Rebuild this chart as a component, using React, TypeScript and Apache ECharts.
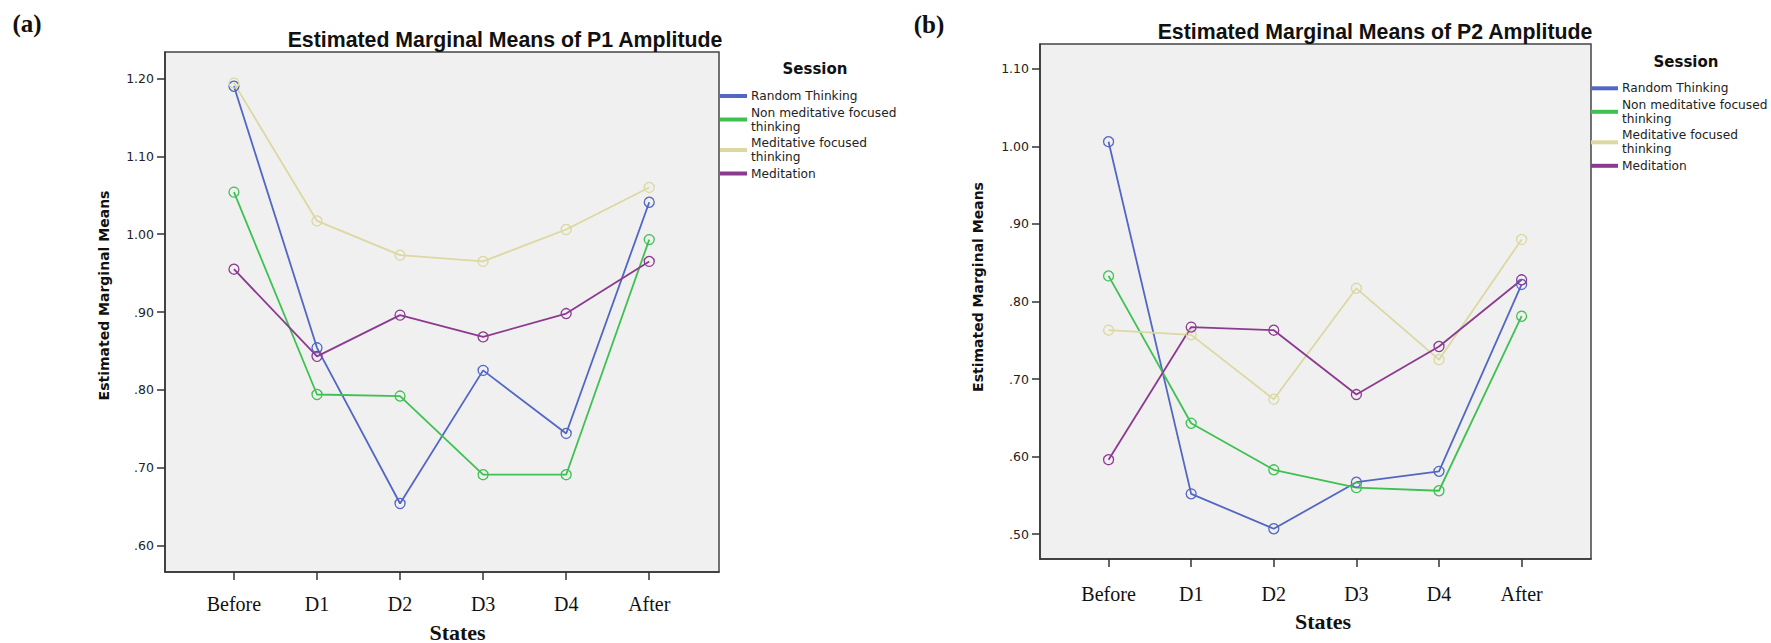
import React, { useEffect, useRef } from "react";
import * as echarts from "echarts";

const states = ["Before", "D1", "D2", "D3", "D4", "After"];
const sessions = [
  "Random Thinking",
  "Non meditative focused thinking",
  "Meditative focused thinking",
  "Meditation",
];
const sessionColors = ["#5266c4", "#3fc152", "#dcd8a2", "#8c3a90"];

const p1Random = [1.19, 0.854, 0.654, 0.825, 0.744, 1.041];
const p1NonMed = [1.054, 0.794, 0.792, 0.691, 0.691, 0.993];
const p1MedFocused = [1.194, 1.017, 0.973, 0.965, 1.006, 1.06];
const p1Meditation = [0.955, 0.843, 0.896, 0.868, 0.898, 0.965];

const p2Random = [1.006, 0.552, 0.507, 0.567, 0.581, 0.822];
const p2NonMed = [0.833, 0.643, 0.583, 0.56, 0.556, 0.781];
const p2MedFocused = [0.763, 0.757, 0.674, 0.817, 0.725, 0.88];
const p2Meditation = [0.596, 0.767, 0.763, 0.68, 0.742, 0.828];

const p1Ticks = [0.6, 0.7, 0.8, 0.9, 1.0, 1.1, 1.2];
const p2Ticks = [0.5, 0.6, 0.7, 0.8, 0.9, 1.0, 1.1];

const fmtY = (v: number) => {
  const s = v.toFixed(2);
  return s.startsWith("0") ? s.slice(1) : s;
};

export default function App() {
  const ref = useRef<HTMLDivElement>(null);
  useEffect(() => {
    if (!ref.current) return;
    const chart = echarts.init(ref.current, null, { renderer: "svg" });
    const stateIdx = states.map((_, i) => i);
    const axisCol = "#333";

    const xAxisBase = (gridIndex: number, margin: number) => ({
      type: "value",
      gridIndex,
      min: -0.83,
      max: 5.84,
      splitLine: { show: false },
      axisLine: { show: true, onZero: false, lineStyle: { color: axisCol, width: 1.5 } },
      axisTick: {
        show: true,
        length: 8,
        customValues: stateIdx,
        lineStyle: { color: axisCol, width: 1.5 },
      },
      axisLabel: {
        customValues: stateIdx,
        formatter: (v: number) => states[Math.round(v)],
        margin,
        color: "#111",
        fontFamily: "Liberation Serif",
        fontSize: 20,
      },
    });
    const yAxisBase = (gridIndex: number, min: number, max: number, ticks: number[]) => ({
      type: "value",
      gridIndex,
      min,
      max,
      splitLine: { show: false },
      axisLine: { show: true, onZero: false, lineStyle: { color: axisCol, width: 1.5 } },
      axisTick: {
        show: true,
        length: 8,
        customValues: ticks,
        lineStyle: { color: axisCol, width: 1.5 },
      },
      axisLabel: {
        customValues: ticks,
        formatter: fmtY,
        margin: 11,
        color: "#222",
        fontFamily: "DejaVu Sans",
        fontSize: 12.5,
      },
    });

    const mk = (name: string, idx: number, values: number[], ci: number) => ({
      type: "line",
      name,
      xAxisIndex: idx,
      yAxisIndex: idx,
      data: values.map((v, i) => [i, v]),
      symbol: "circle",
      symbolSize: 10,
      lineStyle: { color: sessionColors[ci], width: 1.8 },
      itemStyle: { color: "rgba(0,0,0,0)", borderColor: sessionColors[ci], borderWidth: 1.3 },
      emphasis: { disabled: true },
    });

    const legendBase = (left: number, top: number) => ({
      orient: "vertical",
      left,
      top,
      padding: 0,
      itemWidth: 25,
      itemHeight: 2,
      itemGap: 2.5,
      icon: "rect",
      selectedMode: false,
      data: sessions.map((n, i) => ({ name: n, itemStyle: { color: sessionColors[i] } })),
      formatter: (n: string) => n.replace("focused thinking", "focused\nthinking"),
      textStyle: { fontFamily: "DejaVu Sans", fontSize: 12.2, lineHeight: 14, color: "#222" },
    });

    const txt = (text: string, x: number, y: number, font: string, extra: any = {}) => ({
      type: "text",
      x,
      y,
      ...extra,
      style: { text, font, fill: "#111", align: "center", verticalAlign: "middle" },
    });

    chart.setOption({
      animation: false,
      backgroundColor: "#fff",
      grid: [
        { left: 165, top: 52, width: 554, height: 520, show: true, backgroundColor: "#f0f0f0", borderColor: "#444", borderWidth: 1.5 },
        { left: 1040, top: 44, width: 551, height: 515, show: true, backgroundColor: "#f0f0f0", borderColor: "#444", borderWidth: 1.5 },
      ],
      xAxis: [xAxisBase(0, 22), xAxisBase(1, 25)],
      yAxis: [yAxisBase(0, 0.566, 1.234, p1Ticks), yAxisBase(1, 0.468, 1.132, p2Ticks)],
      legend: [legendBase(720, 89), legendBase(1591, 81.3)],
      series: [
        mk(sessions[0], 0, p1Random, 0),
        mk(sessions[1], 0, p1NonMed, 1),
        mk(sessions[2], 0, p1MedFocused, 2),
        mk(sessions[3], 0, p1Meditation, 3),
        mk(sessions[0], 1, p2Random, 0),
        mk(sessions[1], 1, p2NonMed, 1),
        mk(sessions[2], 1, p2MedFocused, 2),
        mk(sessions[3], 1, p2Meditation, 3),
      ],
      graphic: [
        txt("(a)", 27, 23, 'bold 25px "Liberation Serif"'),
        txt("(b)", 929, 24, 'bold 25px "Liberation Serif"'),
        txt("Estimated Marginal Means of P1 Amplitude", 505, 40, 'bold 21.3px "Liberation Sans"'),
        txt("Estimated Marginal Means of P2 Amplitude", 1375, 32, 'bold 21.3px "Liberation Sans"'),
        txt("Session", 815, 69, 'bold 15px "DejaVu Sans"'),
        txt("Session", 1686, 62, 'bold 15px "DejaVu Sans"'),
        txt("Estimated Marginal Means", 104, 295.5, 'bold 14px "DejaVu Sans"', { rotation: Math.PI / 2 }),
        txt("Estimated Marginal Means", 978, 287, 'bold 14px "DejaVu Sans"', { rotation: Math.PI / 2 }),
        txt("States", 457.5, 632, 'bold 22px "Liberation Serif"'),
        txt("States", 1323, 621.5, 'bold 22px "Liberation Serif"'),
      ],
    });
    return () => chart.dispose();
  }, []);
  return (
    <div
      ref={ref}
      style={{ position: "absolute", left: 0, top: 0, width: 1771, height: 643 }}
    />
  );
}
